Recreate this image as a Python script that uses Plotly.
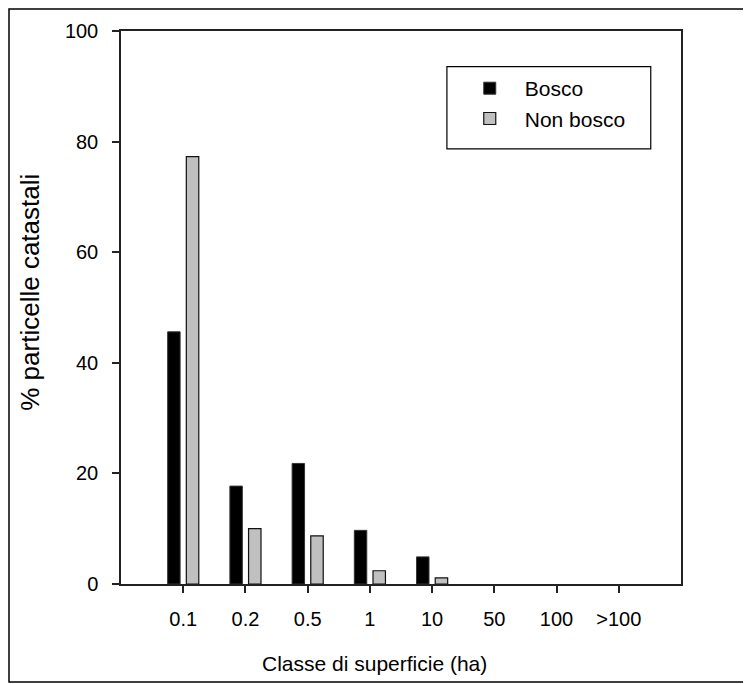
import plotly.graph_objects as go

categories = ["0.1", "0.2", "0.5", "1", "10", "50", "100", ">100"]
bosco = [45.6, 17.7, 21.8, 9.7, 4.9, 0, 0, 0]
non_bosco = [77.3, 10.0, 8.7, 2.4, 1.1, 0, 0, 0]
x_title = "Classe di superficie (ha)"
y_title = "% particelle catastali"

FONT = "Liberation Sans, Arial, sans-serif"

fig = go.Figure()
fig.add_trace(go.Bar(x=categories, y=bosco, name="Bosco",
                     marker=dict(color="black",
                                 line=dict(color="#333", width=[1 if v > 0 else 0 for v in bosco]))))
fig.add_trace(go.Bar(x=categories, y=non_bosco, name="Non bosco",
                     marker=dict(color="#c0c0c0",
                                 line=dict(color="#111", width=[1.2 if v > 0 else 0 for v in non_bosco]))))

fig.update_layout(
    width=751, height=684,
    margin=dict(l=113, r=78, t=17, b=108),
    paper_bgcolor="white", plot_bgcolor="white",
    font=dict(family=FONT, size=20, color="black"),
    barmode="group", bargap=0.4, bargroupgap=0.333,
    showlegend=True,
    legend=dict(x=0.596, y=0.933, xanchor="left", yanchor="top",
                borderwidth=0, bgcolor="rgba(0,0,0,0)", itemwidth=60,
                font=dict(size=21), tracegroupgap=0),
    xaxis=dict(type="category", range=[-1, 8], showline=True, linecolor="#222", linewidth=1.5,
               mirror=True, ticks="outside", ticklen=7, tickcolor="#222", tickwidth=1.5,
               showgrid=False, zeroline=False, ticklabelstandoff=9,
               tickfont=dict(size=20)),
    yaxis=dict(range=[0, 100], tickvals=[0, 20, 40, 60, 80, 100], showline=True,
               linecolor="#222", linewidth=1.5, mirror=True, ticks="outside", ticklen=7,
               tickcolor="#222", tickwidth=1.5, showgrid=False, zeroline=False,
               ticklabelstandoff=10,
               tickfont=dict(size=20)),
    annotations=[
        dict(text=x_title, xref="paper", yref="paper", x=0.452, y=-0.143,
             xanchor="center", yanchor="middle", showarrow=False, font=dict(size=21)),
        dict(text=y_title, xref="paper", yref="paper", x=-0.163, y=0.528, textangle=-90,
             xanchor="center", yanchor="middle", showarrow=False, font=dict(size=26)),
    ],
    shapes=[
        dict(type="rect", xref="paper", yref="paper",
             x0=-0.2, x1=1.2, y0=-0.177, y1=1.04,
             line=dict(color="black", width=1.5), fillcolor="rgba(0,0,0,0)", layer="below"),
        dict(type="rect", xref="paper", yref="paper",
             x0=0.582, x1=0.946, y0=0.787, y1=0.9356,
             line=dict(color="black", width=1.2), fillcolor="rgba(0,0,0,0)", layer="above"),
    ],
)

fig.write_html("out.html")
